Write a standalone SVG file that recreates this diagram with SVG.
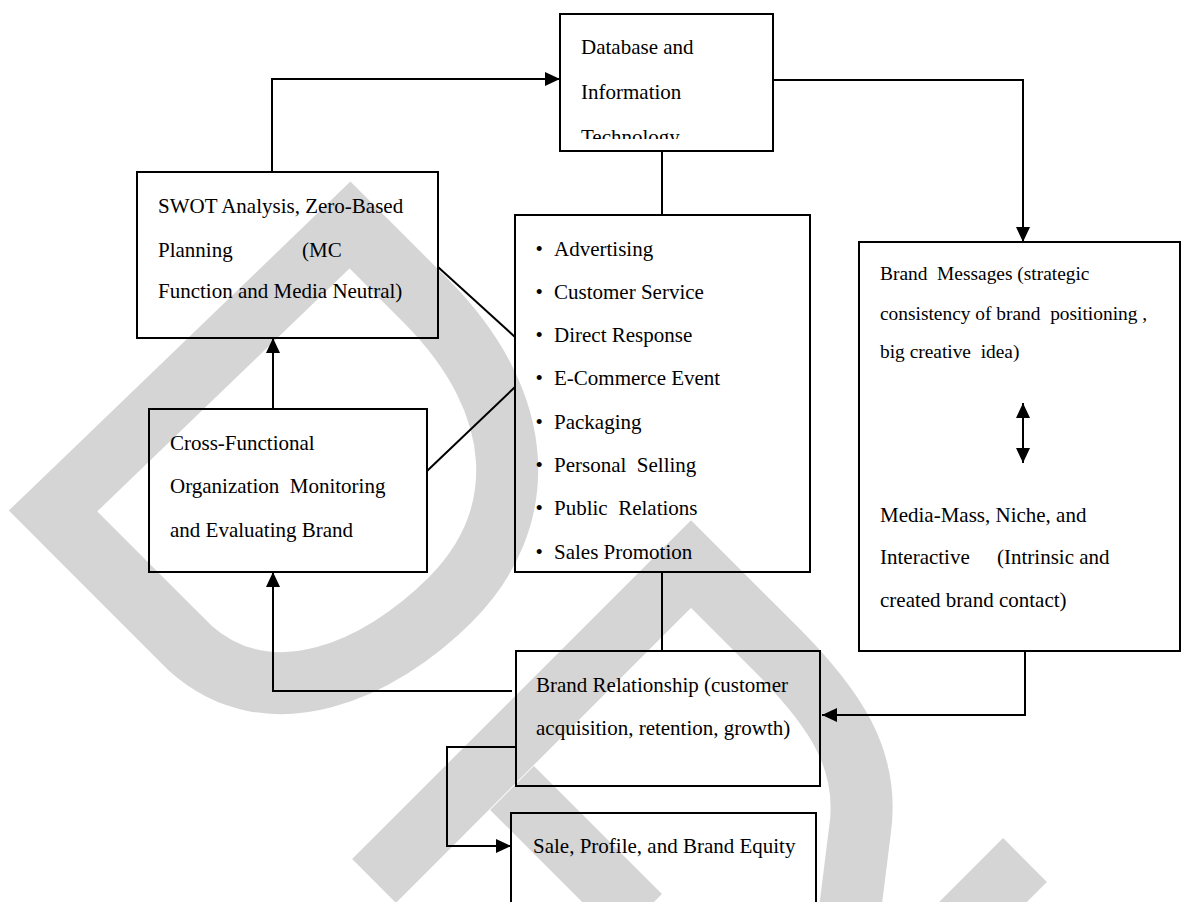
<svg xmlns="http://www.w3.org/2000/svg" width="1181" height="902" viewBox="0 0 1181 902">
  <defs>
    <style>
      .box { fill: none; stroke: #000; stroke-width: 2; }
      .conn { fill: none; stroke: #000; stroke-width: 2; }
      .lbl { font-family: "Liberation Serif", "Times New Roman", serif; font-size: 21px; fill: #000; white-space: pre; }
      .lbl-sm { font-size: 19.4px; }
      .wm { fill: none; stroke: #d5d5d5; stroke-width: 62; stroke-linejoin: miter; stroke-miterlimit: 10; }
    </style>
    <marker id="arrow" markerUnits="userSpaceOnUse" markerWidth="15" markerHeight="14" refX="15" refY="7" orient="auto-start-reverse">
      <path d="M0,0 L15,7 L0,14 Z" fill="#000"/>
    </marker>
    <clipPath id="db-clip">
      <rect x="560" y="14" width="213" height="125"/>
    </clipPath>
  </defs>

  <rect width="1181" height="902" fill="#fff"/>

  <!-- background mark -->
  <g id="watermark">
    <path class="wm" d="M53,511 L350,225 L425,300 C530,405 530,520 450,600 C380,670 270,720 190,648 Z"/>
    <path class="wm" d="M374,881 L691,564 L775,648 C835,708 870,760 860,830 L850,910"/>
    <path class="wm" d="M512,788 L640,916"/>
    <path class="wm" d="M1025,860 L960,925"/>
  </g>

  <!-- connectors -->
  <g id="connectors">
    <path class="conn" d="M272,172 V79 H560" marker-end="url(#arrow)"/>
    <path class="conn" d="M773,80 H1023 V242" marker-end="url(#arrow)"/>
    <path class="conn" d="M662,151 V215"/>
    <path class="conn" d="M662,572 V651"/>
    <path class="conn" d="M438,267 L515,337"/>
    <path class="conn" d="M427,471 L515,387"/>
    <path class="conn" d="M273,409 V338" marker-end="url(#arrow)"/>
    <path class="conn" d="M512,691 H273 V572" marker-end="url(#arrow)"/>
    <path class="conn" d="M1025,651 V715 H822" marker-end="url(#arrow)"/>
    <path class="conn" d="M516,747 H447 V846 H511" marker-end="url(#arrow)"/>
    <path class="conn" d="M1023,403 V463" marker-start="url(#arrow)" marker-end="url(#arrow)"/>
  </g>

  <g id="database">
    <rect class="box" x="560" y="14" width="213" height="137"/>
    <g clip-path="url(#db-clip)">
      <text class="lbl" x="581" y="54">Database and</text>
      <text class="lbl" x="581" y="99">Information</text>
      <text class="lbl" x="581" y="144">Technology</text>
    </g>
  </g>

  <g id="swot">
    <rect class="box" x="137" y="172" width="301" height="166"/>
    <text class="lbl" x="158" y="213">SWOT Analysis, Zero-Based</text>
    <text class="lbl" x="158" y="257">Planning</text>
    <text class="lbl" x="302" y="257">(MC</text>
    <text class="lbl" x="158" y="298">Function and Media Neutral)</text>
  </g>

  <g id="cross-functional">
    <rect class="box" x="149" y="409" width="278" height="163"/>
    <text class="lbl" x="170" y="450">Cross-Functional</text>
    <text class="lbl" x="170" y="493">Organization  Monitoring</text>
    <text class="lbl" x="170" y="537">and Evaluating Brand</text>
  </g>

  <g id="tools">
    <rect class="box" x="515" y="215" width="295" height="357"/>
    <text class="lbl" x="535.5" y="256">•</text>
    <text class="lbl" x="554" y="256">Advertising</text>
    <text class="lbl" x="535.5" y="299">•</text>
    <text class="lbl" x="554" y="299">Customer Service</text>
    <text class="lbl" x="535.5" y="342">•</text>
    <text class="lbl" x="554" y="342">Direct Response</text>
    <text class="lbl" x="535.5" y="385">•</text>
    <text class="lbl" x="554" y="385">E-Commerce Event</text>
    <text class="lbl" x="535.5" y="429">•</text>
    <text class="lbl" x="554" y="429">Packaging</text>
    <text class="lbl" x="535.5" y="472">•</text>
    <text class="lbl" x="554" y="472">Personal  Selling</text>
    <text class="lbl" x="535.5" y="515">•</text>
    <text class="lbl" x="554" y="515">Public  Relations</text>
    <text class="lbl" x="535.5" y="559">•</text>
    <text class="lbl" x="554" y="559">Sales Promotion</text>
  </g>

  <g id="brand-messages">
    <rect class="box" x="859" y="242" width="321" height="409"/>
    <text class="lbl lbl-sm" x="880" y="280">Brand  Messages (strategic</text>
    <text class="lbl lbl-sm" x="880" y="320">consistency of brand  positioning ,</text>
    <text class="lbl lbl-sm" x="880" y="358">big creative  idea)</text>
    <text class="lbl" x="880" y="522">Media-Mass, Niche, and</text>
    <text class="lbl" x="880" y="564">Interactive</text>
    <text class="lbl" x="997" y="564">(Intrinsic and</text>
    <text class="lbl" x="880" y="607">created brand contact)</text>
  </g>

  <g id="brand-relationship">
    <rect class="box" x="516" y="651" width="304" height="135"/>
    <text class="lbl" x="536" y="692">Brand Relationship (customer</text>
    <text class="lbl" x="536" y="735">acquisition, retention, growth)</text>
  </g>

  <g id="sales-equity">
    <rect class="box" x="511" y="813" width="305" height="100"/>
    <text class="lbl" x="533" y="853">Sale, Profile, and Brand Equity</text>
  </g>
</svg>
